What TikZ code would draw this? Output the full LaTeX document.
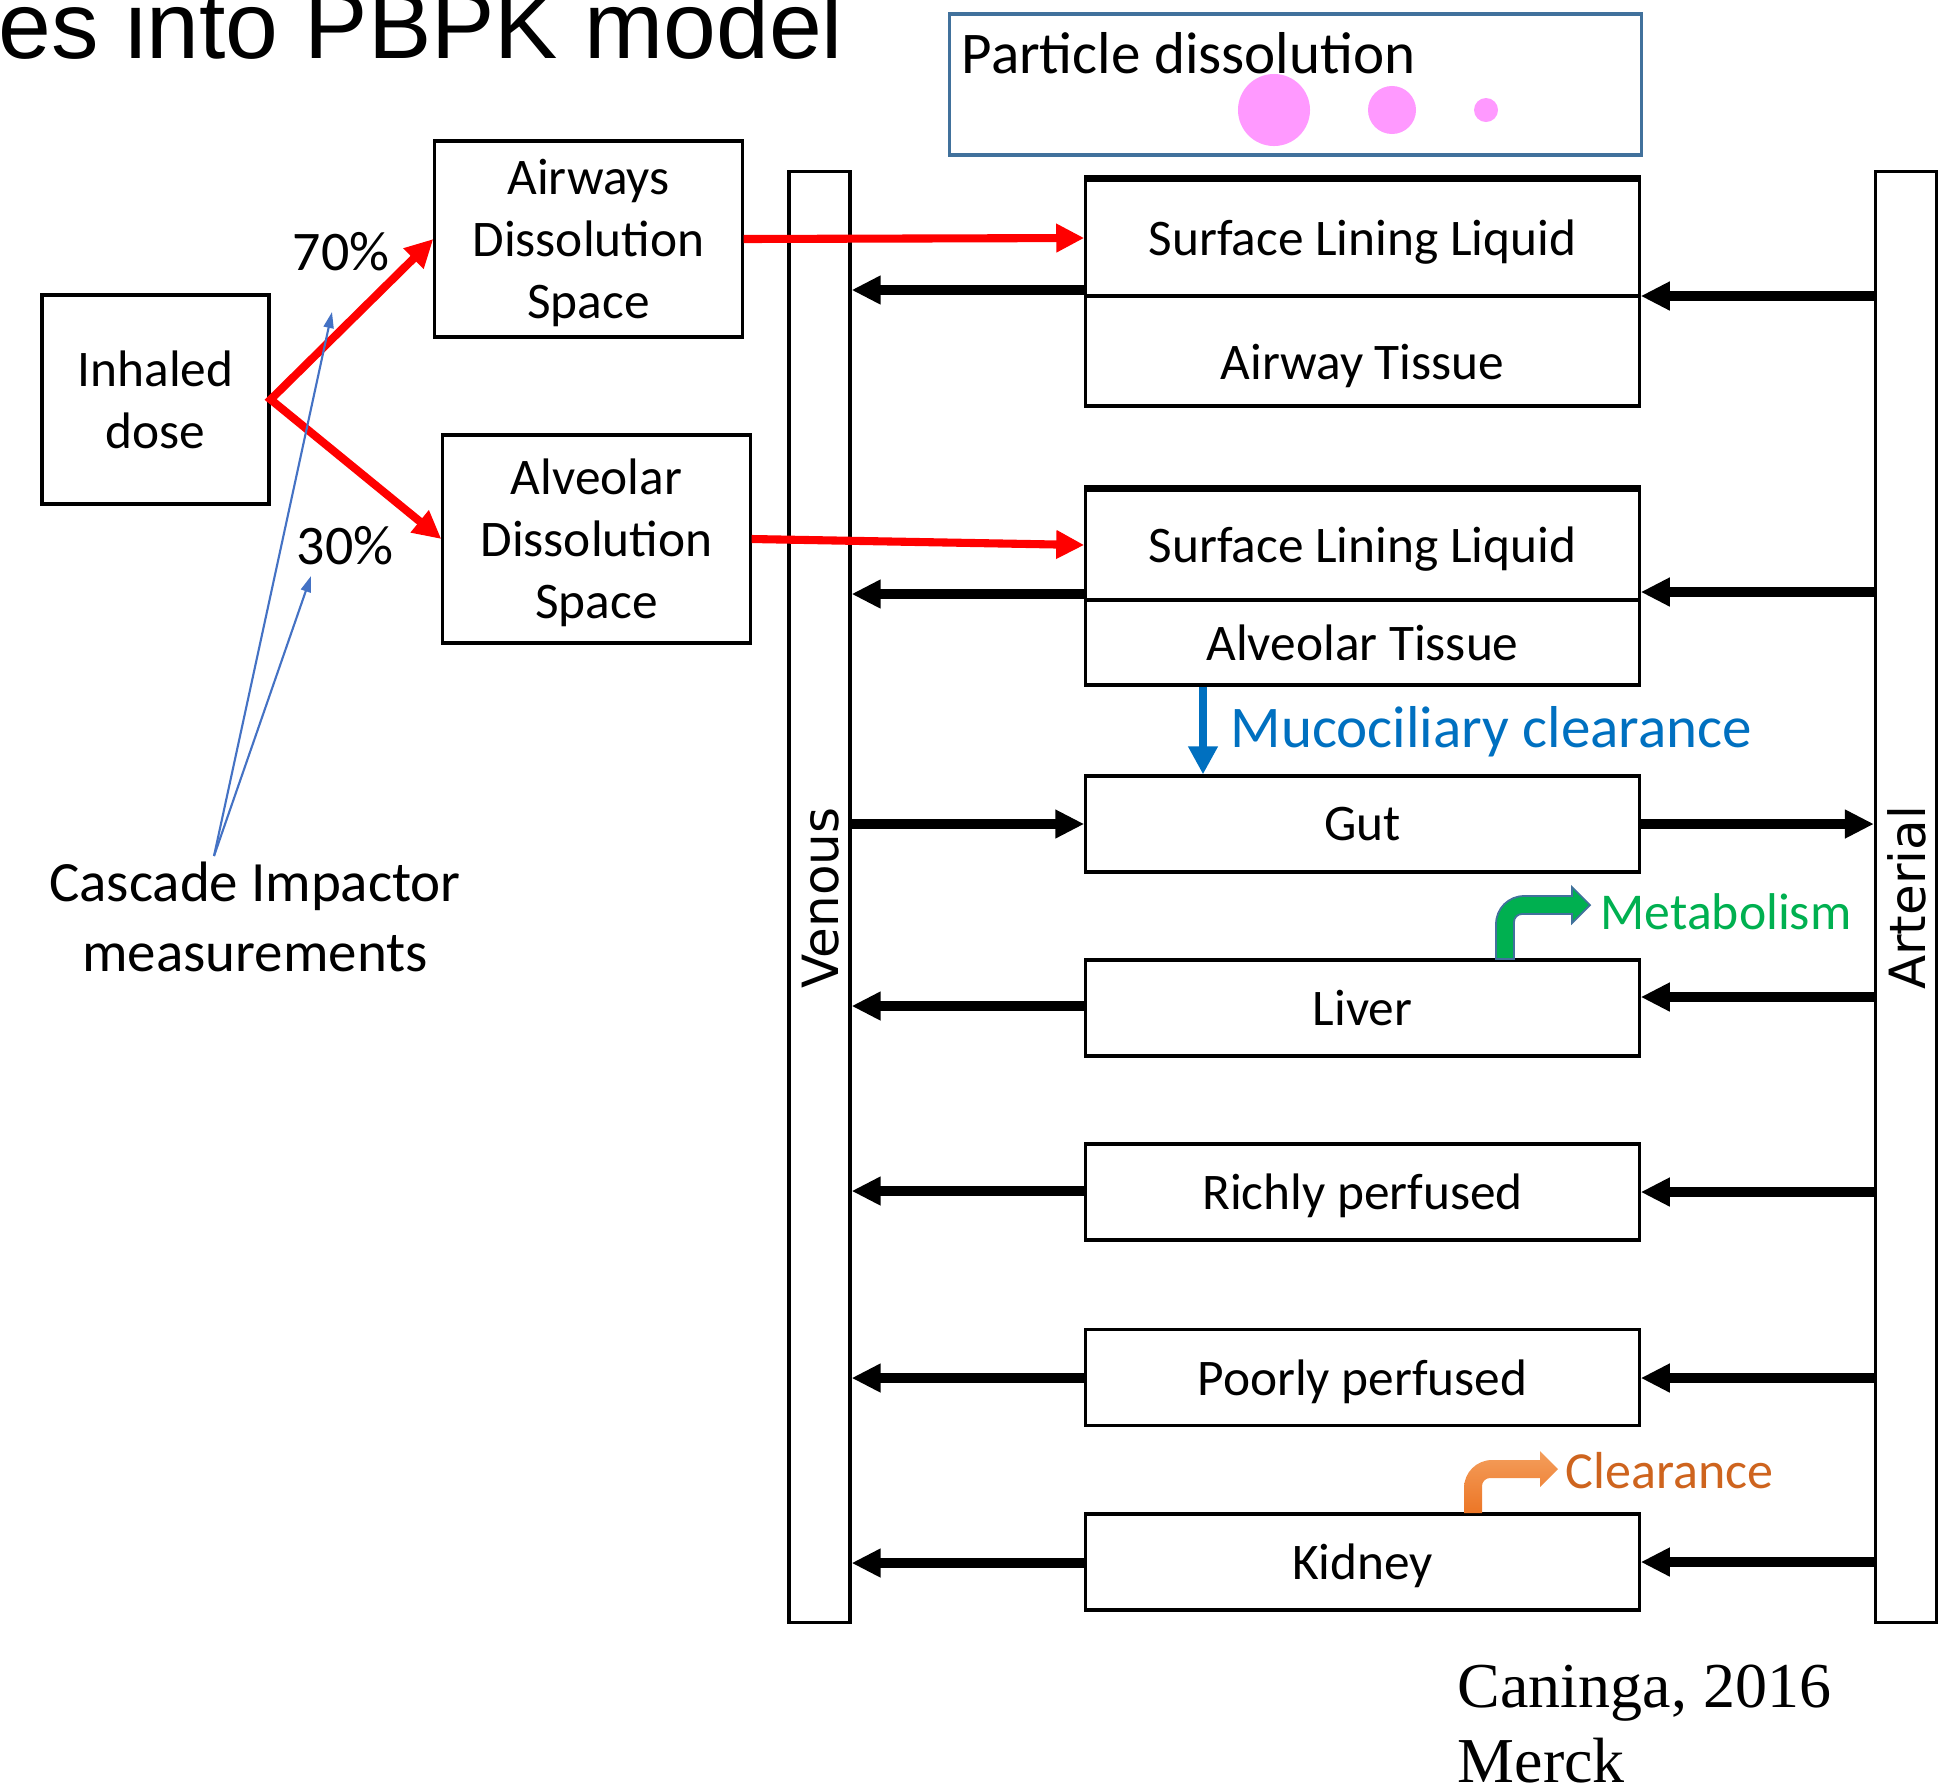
\documentclass[tikz,border=0pt]{standalone}
\usepackage{fontspec}
\setmainfont{Carlito}
\newfontfamily\arialfont{Liberation Sans}
\newfontfamily\dejavufont{DejaVu Sans}
\newfontfamily\timesfont{Liberation Serif}
\usetikzlibrary{arrows.meta}

\definecolor{flowred}{RGB}{255,0,0}
\definecolor{mucoblue}{RGB}{0,112,192}
\definecolor{linkblue}{RGB}{68,114,196}
\definecolor{edgeblue}{RGB}{65,113,156}
\definecolor{metgreen}{RGB}{0,176,80}
\definecolor{clrtext}{RGB}{206,100,30}
\definecolor{clrlight}{RGB}{244,158,92}
\definecolor{clrdark}{RGB}{236,118,38}
\definecolor{particle}{RGB}{255,153,255}

\tikzset{
  redtip/.tip={Triangle[length=2.8mm,width=2.7mm]},
  blacktip/.tip={Triangle[length=2.9mm,width=2.7mm]},
}

% bent block arrow: #1 look, #2 foot of the shaft, #3 rise
\newcommand{\bentarrow}[3]{%
  \path[#1, shift={#2}] (0,0) -- (0,{-#3+28})
    .. controls (0,{-#3+12.5}) and (12.5,-#3) .. (28,-#3)
    -- (76,-#3) -- (76,{-#3-9}) -- (94,{-#3+9}) -- (76,{-#3+27}) -- (76,{-#3+18})
    -- (26,{-#3+18}) .. controls (21.6,{-#3+18}) and (18,{-#3+21.6}) .. (18,{-#3+26})
    -- (18,0) -- cycle;}

\begin{document}
\begin{tikzpicture}[x=0.01cm, y=-0.01cm,
  box/.style={draw, line width=0.9pt, inner sep=0pt, align=center, text depth=0pt,
    font=\fontsize{14.6}{17.6}\selectfont},
  comp/.style={box, minimum width=5.53cm, minimum height=0.96cm},
  bar/.style={draw, line width=0.9pt, minimum width=0.61cm, minimum height=14.5cm},
  barlab/.style={inner sep=0pt, rotate=90, font=\dejavufont\fontsize{14.2}{17}\selectfont},
  lab/.style={inner sep=0pt, font=\fontsize{15.9}{19}\selectfont},
  intake/.style={redtip-redtip, flowred, line width=2.3pt},
  flow/.style={-blacktip, line width=2.6pt},
  mucus/.style={-{Triangle[length=2.8mm,width=2.8mm]}, mucoblue, line width=2.4pt},
  pointer/.style={-{Triangle[length=1.6mm,width=1mm]}, linkblue, line width=0.6pt}]
\useasboundingbox (0,0) rectangle (1942,1787);

% heading and particle legend
\node[anchor=base west, inner sep=0pt, font=\arialfont\fontsize{27}{32}\selectfont] (title) at (-2,58) {es into PBPK model};
\node[draw=edgeblue, line width=0.9pt, minimum width=6.91cm, minimum height=1.41cm] (legend) at (1295.5,84.5) {};
\node[anchor=west, inner sep=0pt, font=\fontsize{16.8}{20}\selectfont] (legtext) at (961,53) {Particle dissolution};
\foreach \px/\r in {1274/0.36cm, 1392/0.24cm, 1486/0.12cm}
  \fill[particle] (\px,110) circle[radius=\r];

% deposition
\node[box, minimum width=2.27cm, minimum height=2.09cm] (inh) at (155.5,399.5) {Inhaled\\dose};
\node[box, minimum width=3.07cm, minimum height=1.96cm] (awds) at (588.5,239) {Airways\\Dissolution\\Space};
\node[box, minimum width=3.07cm, minimum height=2.08cm] (alds) at (596.5,539) {Alveolar\\Dissolution\\Space};
\node[lab] (p70) at (341,252) {70\%};
\node[lab] (p30) at (345,546) {30\%};
\node[lab, align=center, font=\fontsize{16.2}{19.9}\selectfont] (casc) at (255,917) {Cascade Impactor\\measurements};
\coordinate (ci) at (214,856);
\coordinate (t70) at (332,312);
\coordinate (t30) at (311,576);

% blood pools
\node[bar] (ven) at (819.5,897) {};
\node[bar] (art) at (1906,897) {};
\node[barlab] (venlab) at (821,898) {Venous};
\node[barlab] (artlab) at (1907,898) {Arterial};

% compartments
\node[comp, minimum height=1.16cm] (sll1) at (1362.5,238) {Surface Lining Liquid};
\node[comp, minimum height=1.10cm, text height=16.4pt] (awt) at (1362.5,351) {Airway Tissue};
\node[comp, minimum height=1.10cm] (sll2) at (1362.5,545) {Surface Lining Liquid};
\node[comp, minimum height=0.85cm] (avt) at (1362.5,642.5) {Alveolar Tissue};
\node[comp] (gut) at (1362.5,824) {Gut};
\node[comp] (liver) at (1362.5,1008) {Liver};
\node[comp] (rich) at (1362.5,1192) {Richly perfused};
\node[comp] (poor) at (1362.5,1377.5) {Poorly perfused};
\node[comp] (kid) at (1362.5,1562) {Kidney};
\foreach \c in {sll1,sll2}
  \draw[line width=1.8pt] (\c.north west) -- (\c.north east);

% dose split and transfer to lining liquid
\draw[intake] (awds.west) -- (inh.east) -- (alds.west);
\draw[intake, -redtip] (awds.east) -- (sll1.west);
\draw[intake, -redtip] (alds.east) -- (sll2.west);
\draw[pointer] (ci) -- (t70);
\draw[pointer] (ci) -- (t30);

% blood flows
\foreach \c/\l/\r in {sll1/290/296, sll2/594/592, liver/1006/997, rich/1191/1192, poor/1378/1378, kid/1563/1562} {
  \draw[flow] (\c.west |- 0,\l) -- (ven.east |- 0,\l);
  \draw[flow] (art.west |- 0,\r) -- (\c.east |- 0,\r);
}
\draw[flow] (ven.east |- gut.west) -- (gut.west);
\draw[flow] (gut.east) -- (art.west |- gut.east);

% clearance routes
\coordinate (muc) at (1203,0);
\draw[mucus] (avt.south -| muc) -- (gut.north -| muc);
\node[anchor=west, inner sep=0pt, text depth=0pt, text=mucoblue, font=\fontsize{16.8}{20}\selectfont] (muclab) at (1230,727) {Mucociliary clearance};
\bentarrow{fill=metgreen, draw=edgeblue, line width=0.5pt}{(1496,959)}{63}
\node[anchor=west, inner sep=0pt, text=metgreen, font=\fontsize{14.7}{18}\selectfont] (metlab) at (1600,912) {Metabolism};
\bentarrow{top color=clrlight, bottom color=clrdark}{(1464,1513)}{53}
\node[anchor=west, inner sep=0pt, text=clrtext, font=\fontsize{14.8}{18}\selectfont] (clrlab) at (1565,1471) {Clearance};

% source
\node[anchor=base west, inner sep=0pt, font=\timesfont\fontsize{18.2}{22}\selectfont] (cite1) at (1457,1707) {Caninga, 2016};
\node[anchor=base west, inner sep=0pt, font=\timesfont\fontsize{18.2}{22}\selectfont] (cite2) at (1457,1782) {Merck};
\end{tikzpicture}
\end{document}
